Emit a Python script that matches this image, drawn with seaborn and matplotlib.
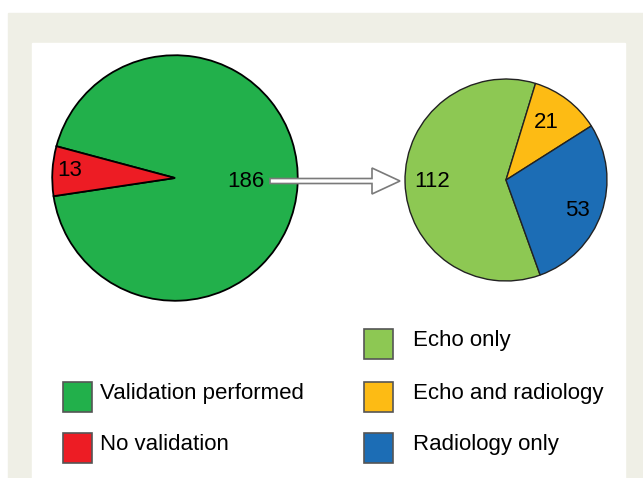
import numpy as np
import matplotlib
matplotlib.use("Agg")
import matplotlib.pyplot as plt
from matplotlib.patches import Rectangle, FancyArrow
import seaborn as sns

# data
main_labels = ["Validation performed", "No validation"]
main_counts = [186, 13]
main_colors = ["#22b04b", "#ed1c24"]

sub_labels = ["Echo only", "Echo and radiology", "Radiology only"]
sub_counts = [112, 21, 53]
sub_colors = ["#8dc853", "#fdbb14", "#1c6db5"]

sns.set_theme(style="white")
plt.rcParams["font.family"] = ["Liberation Sans", "DejaVu Sans"]
plt.rcParams["text.color"] = "black"

W, H = 643, 478
fig = plt.figure(figsize=(W / 100, H / 100), dpi=100)

# background panels (pixel coords)
bg = fig.add_axes([0, 0, 1, 1], zorder=0)
bg.set_xlim(0, W)
bg.set_ylim(H, 0)
bg.axis("off")
bg.add_patch(Rectangle((8, 13), W - 8, H - 13, color="#efefe6"))
bg.add_patch(Rectangle((32, 43), 593, H - 43, color="white"))


def pie_axes(cx, cy, r):
    ax = fig.add_axes([(cx - r) / W, 1 - (cy + r) / H, 2 * r / W, 2 * r / H], zorder=2)
    ax.axis("off")
    return ax


def fix_limits(ax):
    ax.set_xlim(-1.0, 1.0)
    ax.set_ylim(-1.0, 1.0)


# left pie: red slice on the left side
ax1 = pie_axes(175, 178, 124)
green_span1 = 360 * main_counts[0] / sum(main_counts)
ax1.pie(main_counts, colors=main_colors, startangle=165 - green_span1,
        counterclock=True, radius=0.99,
        wedgeprops=dict(edgecolor="black", linewidth=1.3))
fix_limits(ax1)
ax1.text(0.57, -0.03, str(main_counts[0]), fontsize=16, ha="center", va="center")
ax1.text(-0.85, 0.06, str(main_counts[1]), fontsize=16, ha="center", va="center")

# right pie: breakdown of validations
ax2 = pie_axes(506, 180, 102)
green_span = 360 * sub_counts[0] / sum(sub_counts)
ax2.pie(sub_counts, colors=sub_colors, startangle=73 + green_span,
        counterclock=False, radius=0.99,
        wedgeprops=dict(edgecolor="#222222", linewidth=1.0))
fix_limits(ax2)
ax2.text(-0.72, -0.01, str(sub_counts[0]), fontsize=16, ha="center", va="center")
ax2.text(0.40, 0.56, str(sub_counts[1]), fontsize=16, ha="center", va="center")
ax2.text(0.70, -0.30, str(sub_counts[2]), fontsize=16, ha="center", va="center")

# overlay: arrow + legends
ov = fig.add_axes([0, 0, 1, 1], zorder=5)
ov.set_xlim(0, W)
ov.set_ylim(H, 0)
ov.axis("off")
ov.patch.set_alpha(0)
ov.add_patch(FancyArrow(270, 181, 130, 0, width=5, head_width=26, head_length=28,
                        length_includes_head=True, fc="white", ec="#7a7a7a", lw=1.2))


def legend_item(x, top, color, label, gap):
    ov.add_patch(Rectangle((x, top), 29, 30, fc=color, ec="#555555", lw=1.2))
    ov.text(x + 29 + gap, top + 17, label, fontsize=16, ha="left", va="baseline")


left_top = [382, 433]
for t, c, lab in zip(left_top, main_colors, main_labels):
    legend_item(63, t, c, lab, 8)

right_top = [329, 382, 433]
for t, c, lab in zip(right_top, sub_colors, sub_labels):
    legend_item(364, t, c, lab, 20)

fig.savefig("out.png", dpi=100)
